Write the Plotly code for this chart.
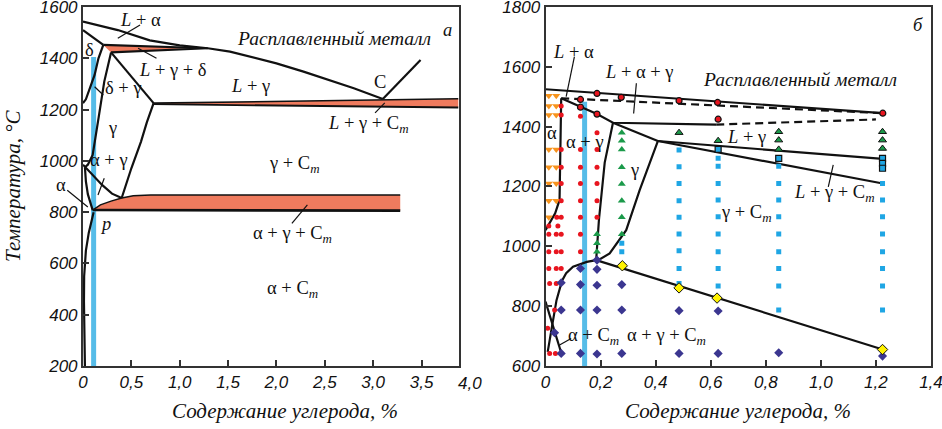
import plotly.graph_objects as go

# ================= Panel "а" (left) =================
A_XTICKS = [0, 0.5, 1.0, 1.5, 2.0, 2.5, 3.0, 3.5]
A_XTICKTEXT = ["0", "0,5", "1,0", "1,5", "2,0", "2,5", "3,0", "3,5"]
A_EXTRA_TICK = "4,0"
A_YTICKS = [200, 400, 600, 800, 1000, 1200, 1400, 1600]

# phase boundaries (carbon %, temperature °C)
A_LIQ_X = [0, 0.36, 0.69, 1.0, 1.29, 1.52, 2.0, 2.28, 2.8, 3.10]
A_LIQ_T = [1543, 1510, 1470, 1450, 1439, 1426, 1380, 1348, 1283, 1241]
A_CLINE_X = [3.10, 3.49]
A_CLINE_T = [1241, 1393]
A_DLIQ_X = [0, 0.21]
A_DLIQ_T = [1510, 1452]
A_PER_TOP_X = [0.21, 1.2]
A_PER_TOP_T = [1452, 1440]
A_PER_BOT_X = [0.29, 1.29]
A_PER_BOT_T = [1423, 1439]
A_WEDGE_X = [0.21, 1.1, 0.29]
A_WEDGE_T = [1452, 1440, 1423]
A_DELTA_X = [0.21, 0.16, 0.12, 0.07, 0.03, 0.0]
A_DELTA_T = [1452, 1400, 1335, 1280, 1240, 1225]
A_DG_X = [0.29, 0.22, 0.155, 0.10, 0.05, 0.02]
A_DG_T = [1423, 1309, 1153, 1023, 985, 975]
A_GSOL_X = [0.29, 0.73]
A_GSOL_T = [1423, 1225]
A_GCM_X = [0.73, 0.66, 0.60, 0.50, 0.40]
A_GCM_T = [1225, 1150, 1075, 971, 855]
A_AG_X = [0, 0.1, 0.2, 0.3, 0.40]
A_AG_T = [985, 945, 905, 872, 855]
A_ALPHA_X = [0.02, 0.03, 0.05, 0.08, 0.10]
A_ALPHA_T = [975, 920, 870, 830, 808]
A_SOLV_X = [0.11, 0.06, 0.03, 0.012, 0.01, 0.015, 0.02]
A_SOLV_T = [800, 720, 650, 550, 450, 300, 200]
A_BAND1_TOP_X = [0.73, 3.88]
A_BAND1_TOP_T = [1225, 1242]
A_BAND1_BOT_X = [3.88, 0.73]
A_BAND1_BOT_T = [1208, 1221]
A_BAND2_TOP_X = [0.10, 0.18, 0.29, 0.40, 0.52, 0.7, 3.28]
A_BAND2_TOP_T = [808, 828, 843, 855, 864, 867, 867]
A_BAND2_BOT_X = [3.28, 0.10]
A_BAND2_BOT_T = [806, 808]
A_BAR_X = [0.11, 0.11]
A_BAR_T = [200, 1405]

# ================= Panel "б" (right) =================
B_XTICKS = [0, 0.2, 0.4, 0.6, 0.8, 1.0, 1.2, 1.4]
B_XTICKTEXT = ["0", "0,2", "0,4", "0,6", "0,8", "1,0", "1,2", "1,4"]
B_YTICKS = [600, 800, 1000, 1200, 1400, 1600, 1800]

B_TOP_X = [0, 1.225]
B_TOP_T = [1525, 1445]
B_DASH1_X = [0.057, 1.225]
B_DASH1_T = [1495, 1445]
B_SOL_X = [0.057, 0.13, 0.187, 0.245, 0.62]
B_SOL_T = [1495, 1465, 1442, 1413, 1407]
B_DASH2_X = [0.62, 1.2]
B_DASH2_T = [1407, 1424]
B_LG_X = [0.245, 0.408]
B_LG_T = [1413, 1352]
B_LGU_X = [0.408, 1.225]
B_LGU_T = [1352, 1292]
B_LGL_X = [0.408, 1.225]
B_LGL_T = [1352, 1210]
B_GR_X = [0.408, 0.342, 0.293, 0.269, 0.233, 0.196, 0.184]
B_GR_T = [1352, 1188, 1054, 1021, 976, 956, 954]
B_GL_X = [0.184, 0.194, 0.215, 0.245]
B_GL_T = [954, 1088, 1280, 1413]
B_AGL_X = [0.184, 0.15, 0.10, 0.075, 0.06, 0.051, 0.04, 0.025, 0.008]
B_AGL_T = [954, 948, 932, 910, 885, 859, 820, 740, 647]
B_ACM_X = [0, 0.055]
B_ACM_T = [815, 650]
B_AL_X = [0.057, 0.054, 0.051, 0.035, 0.008, 0]
B_AL_T = [1495, 1300, 1155, 1110, 1065, 1054]
B_EUT_X = [0.184, 1.225]
B_EUT_T = [954, 655]
B_BAR_X = [0.142, 0.142]
B_BAR_T = [600, 1483]

# experimental points
ORANGE_X = [0.012, 0.039, 0.012, 0.039, 0.012, 0.039, 0.012, 0.039, 0.012, 0.039,
            0.012, 0.039, 0.012, 0.039, 0.012]
ORANGE_T = [1503, 1503, 1469, 1469, 1439, 1439, 1324, 1324, 1264, 1264,
            1210, 1210, 1152, 1152, 1097]
RED_X = [0.012, 0.012, 0.012, 0.012, 0.015, 0.015, 0.008, 0.033,
         0.041, 0.045, 0.039, 0.039, 0.039, 0.039, 0.036,
         0.057, 0.057, 0.057, 0.057, 0.057, 0.057, 0.057, 0.057, 0.057, 0.057,
         0.127, 0.127, 0.127, 0.127, 0.127, 0.127, 0.127, 0.127,
         0.187, 0.187, 0.187, 0.187, 0.187, 0.187]
RED_T = [1068, 1040, 982, 926, 876, 642, 726, 787,
         1097, 1068, 1040, 982, 926, 876, 642,
         1469, 1439, 1324, 1264, 1210, 1152, 1097, 1040, 982, 926,
         1435, 1324, 1264, 1210, 1152, 1097, 1040, 982,
         1380, 1324, 1264, 1210, 1152, 1097]
REDO_X = [0.127, 0.127, 0.187, 0.187, 0.275, 0.485, 0.625, 0.627, 1.225]
REDO_T = [1491, 1465, 1511, 1442, 1498, 1487, 1481, 1425, 1445]
GREEN_X = [0.187, 0.187, 0.187, 0.277, 0.277, 0.277, 0.277, 0.277, 0.277, 0.277, 0.277]
GREEN_T = [1040, 1010, 982, 1380, 1353, 1324, 1264, 1208, 1152, 1097, 1040]
GREENO_X = [0.485, 0.627, 0.847, 0.847, 0.847, 1.224, 1.224, 1.224]
GREENO_T = [1380, 1353, 1383, 1355, 1324, 1383, 1355, 1327]
CYAN_X = [0.277, 0.277,
          0.485, 0.485, 0.485, 0.485, 0.485, 0.485, 0.485, 0.485, 0.485,
          0.627, 0.627, 0.627, 0.627, 0.627, 0.627, 0.627, 0.627, 0.627,
          0.847, 0.847, 0.847, 0.847, 0.847, 0.847, 0.847, 0.847, 0.847,
          1.224, 1.224, 1.224, 1.224, 1.224, 1.224, 1.224, 1.224]
CYAN_T = [1010, 982,
          1322, 1266, 1210, 1152, 1097, 1041, 985, 926, 876,
          1294, 1268, 1210, 1155, 1099, 1041, 982, 926, 867,
          1268, 1210, 1155, 1099, 1041, 982, 926, 867, 787,
          1210, 1155, 1099, 1041, 982, 926, 867, 787]
CYANO_X = [0.627, 0.847, 1.224, 1.224, 1.224]
CYANO_T = [1324, 1294, 1294, 1277, 1261]
DIAM_X = [0.033, 0.057, 0.057, 0.057, 0.127, 0.127, 0.127, 0.127,
          0.187, 0.187, 0.187, 0.187, 0.187, 0.277, 0.277, 0.277,
          0.485, 0.485, 0.627, 0.627, 0.847, 1.224]
DIAM_T = [711, 878, 787, 642, 926, 872, 787, 642,
          954, 923, 870, 787, 640, 872, 787, 642,
          785, 642, 784, 642, 644, 633]
YEL_X = [0.279, 0.485, 0.623, 1.224]
YEL_T = [935, 861, 827, 655]

# ================= colours / fonts =================
ORANGE_FILL = "#EF7B5E"
BLUE_BAR = "#56BCE8"
BLACK = "#111111"
SERIF = "Liberation Serif"
SANS = "Liberation Sans"

fig = go.Figure()


def line(x, y, ax, width=2.2, dash=None, color=BLACK):
    fig.add_trace(go.Scatter(x=x, y=y, mode="lines", xaxis=ax[0], yaxis=ax[1],
                             line=dict(color=color, width=width, dash=dash),
                             hoverinfo="skip", showlegend=False))


def fill(x, y, ax):
    fig.add_trace(go.Scatter(x=x, y=y, mode="lines", fill="toself", fillcolor=ORANGE_FILL,
                             xaxis=ax[0], yaxis=ax[1], line=dict(width=0, color=ORANGE_FILL),
                             hoverinfo="skip", showlegend=False))


def marks(x, y, symbol, color, size, lw=0, lc=BLACK):
    fig.add_trace(go.Scatter(x=x, y=y, mode="markers", xaxis="x2", yaxis="y2",
                             marker=dict(symbol=symbol, color=color, size=size,
                                         line=dict(width=lw, color=lc)),
                             hoverinfo="skip", showlegend=False))


A = ("x", "y")
B = ("x2", "y2")

# ---- left panel
line(A_BAR_X, A_BAR_T, A, width=5, color=BLUE_BAR)
fill(A_WEDGE_X, A_WEDGE_T, A)
fill(A_BAND1_TOP_X + A_BAND1_BOT_X, A_BAND1_TOP_T + A_BAND1_BOT_T, A)
fill(A_BAND2_TOP_X + A_BAND2_BOT_X, A_BAND2_TOP_T + A_BAND2_BOT_T, A)
line(A_LIQ_X, A_LIQ_T, A)
line(A_CLINE_X, A_CLINE_T, A)
line(A_DLIQ_X, A_DLIQ_T, A)
line(A_PER_TOP_X, A_PER_TOP_T, A)
line(A_PER_BOT_X, A_PER_BOT_T, A)
line(A_DELTA_X, A_DELTA_T, A)
line(A_DG_X, A_DG_T, A)
line(A_GSOL_X, A_GSOL_T, A)
line(A_GCM_X, A_GCM_T, A)
line(A_AG_X, A_AG_T, A)
line(A_ALPHA_X, A_ALPHA_T, A)
line(A_SOLV_X, A_SOLV_T, A)
line(A_BAND1_TOP_X, A_BAND1_TOP_T, A, width=1.6)
line(A_BAND1_BOT_X, A_BAND1_BOT_T, A, width=1.8)
line(A_BAND2_TOP_X, A_BAND2_TOP_T, A, width=1.4)
line(A_BAND2_BOT_X, A_BAND2_BOT_T, A, width=2.6)

# leader lines (left)
A_LEADERS = [
    ([0.59, 0.36], [1530, 1478]),
    ([0.76, 0.57], [1400, 1439]),
    ([0.21, 0.12], [1257, 1289]),
    ([0.22, 0.155], [932, 867]),
    ([3.02, 3.12], [1187, 1226]),
    ([2.16, 2.32], [756, 828]),
]
for lx, ly in A_LEADERS:
    line(lx, ly, A, width=1.2)

# ---- right panel
line(B_BAR_X, B_BAR_T, B, width=5, color=BLUE_BAR)
line(B_TOP_X, B_TOP_T, B)
line(B_DASH1_X, B_DASH1_T, B, dash="8px,5px")
line(B_SOL_X, B_SOL_T, B)
line(B_DASH2_X, B_DASH2_T, B, dash="8px,5px")
line(B_LG_X, B_LG_T, B)
line(B_LGU_X, B_LGU_T, B)
line(B_LGL_X, B_LGL_T, B)
line(B_GR_X, B_GR_T, B)
line(B_GL_X, B_GL_T, B)
line(B_AGL_X, B_AGL_T, B)
line(B_ACM_X, B_ACM_T, B)
line(B_AL_X, B_AL_T, B)
line(B_EUT_X, B_EUT_T, B)

B_LEADERS = [
    ([0.105, 0.075], [1634, 1500]),
    ([0.33, 0.32], [1545, 1444]),
    ([1.027, 1.045], [1199, 1272]),
    ([0.093, 0.051], [692, 670]),
]
for lx, ly in B_LEADERS:
    line(lx, ly, B, width=1.2)

marks(ORANGE_X, ORANGE_T, "triangle-down", "#F7941D", 7)
marks(RED_X, RED_T, "circle", "#E8151F", 5)
marks(GREEN_X, GREEN_T, "triangle-up", "#1B9A4A", 7)
marks(CYAN_X, CYAN_T, "square", "#1FA6E4", 5)
marks(DIAM_X, DIAM_T, "diamond", "#3B3690", 7)
marks(YEL_X, YEL_T, "diamond", "#FFF200", 8, lw=1)
marks(REDO_X, REDO_T, "circle", "#E8151F", 6, lw=1.2)
marks(GREENO_X, GREENO_T, "triangle-up", "#1B9A4A", 7, lw=1)
marks(CYANO_X, CYANO_T, "square", "#1FA6E4", 6, lw=1.2)

# ================= labels =================
LBL_FONT = dict(family=SERIF, size=18.5, color=BLACK)
BIG_FONT = dict(family=SERIF, size=19.5, color=BLACK)
A_LABELS = [
    (0.59, 1549, "<i>L</i> + α"),
    (0.93, 1354, "<i>L</i> + γ + δ"),
    (0.07, 1432, "δ"),
    (0.42, 1284, "δ + γ"),
    (0.30, 1128, "γ"),
    (0.27, 1003, "α + γ"),
    (0.23, 752, "<i>p</i>"),
    (1.73, 1292, "<i>L</i> + γ"),
    (3.07, 1308, "C"),
    (3.77, 1510, "<i>а</i>"),
    (2.95, 1140, "<i>L</i> + γ + C<sub><i>m</i></sub>"),
    (2.19, 984, "γ + C<sub><i>m</i></sub>"),
    (2.17, 711, "α + γ + C<sub><i>m</i></sub>"),
    (2.17, 497, "α + C<sub><i>m</i></sub>"),
]
B_LABELS = [
    (0.10, 1651, "<i>L</i> + α"),
    (0.34, 1584, "<i>L</i> + α + γ"),
    (1.354, 1740, "<i>б</i>"),
    (0.025, 1378, "α"),
    (0.142, 1350, "α + γ"),
    (0.324, 1255, "γ"),
    (0.73, 1364, "<i>L</i> + γ"),
    (1.05, 1177, "<i>L</i> + γ + C<sub><i>m</i></sub>"),
    (0.73, 1110, "γ + C<sub><i>m</i></sub>"),
    (0.175, 697, "α + C<sub><i>m</i></sub>"),
    (0.44, 697, "α + γ + C<sub><i>m</i></sub>"),
]
ann = []
for x, y, t in A_LABELS:
    ann.append(dict(x=x, y=y, xref="x", yref="y", text=t, showarrow=False, font=LBL_FONT))
for x, y, t in B_LABELS:
    ann.append(dict(x=x, y=y, xref="x2", yref="y2", text=t, showarrow=False, font=LBL_FONT))
ann.append(dict(x=2.6, y=1479, xref="x", yref="y", text="<i>Расплавленный металл</i>",
                showarrow=False, font=BIG_FONT))
ann.append(dict(x=0.924, y=1556, xref="x2", yref="y2", text="<i>Расплавленный металл</i>",
                showarrow=False, font=BIG_FONT))
# "α" with leader pointing into the diagram (left panel)
ann.append(dict(x=0.05, y=820, xref="x", yref="y", ax=-0.23, ay=906, axref="x", ayref="y",
                text="α", showarrow=True, arrowhead=0, arrowwidth=1.2, arrowcolor=BLACK,
                standoff=0, startstandoff=0, font=LBL_FONT))
# tick label "4,0" lies just beyond the frame of panel а
ann.append(dict(x=470 / 942, y=1 - 383 / 429, xref="paper", yref="paper",
                text="<i>" + A_EXTRA_TICK + "</i>", showarrow=False,
                font=dict(family=SANS, size=17, color=BLACK), yanchor="middle", xanchor="center"))
TITLE_FONT = dict(family=SERIF, size=21, color=BLACK)
ann.append(dict(x=285 / 942, y=1 - 411 / 429, xref="paper", yref="paper",
                text="<i>Содержание углерода, %</i>", showarrow=False, font=TITLE_FONT,
                xanchor="center", yanchor="middle"))
ann.append(dict(x=738 / 942, y=1 - 411 / 429, xref="paper", yref="paper",
                text="<i>Содержание углерода, %</i>", showarrow=False, font=TITLE_FONT,
                xanchor="center", yanchor="middle"))
ann.append(dict(x=13 / 942, y=1 - 186 / 429, xref="paper", yref="paper",
                text="<i>Температура, °С</i>", textangle=-90, showarrow=False, font=TITLE_FONT,
                xanchor="center", yanchor="middle"))

TICKFONT = dict(family=SANS, size=17, color=BLACK, style="italic")
axis_common = dict(showgrid=False, zeroline=False, showline=True, linecolor="#333333",
                   linewidth=2, mirror=True, ticks="inside", ticklen=6, tickwidth=1.5,
                   tickcolor="#333333", tickfont=TICKFONT, automargin=False,
                   ticklabeloverflow="allow")

fig.update_layout(
    width=942, height=429,
    margin=dict(l=0, r=0, t=0, b=0),
    paper_bgcolor="white", plot_bgcolor="white",
    showlegend=False,
    xaxis=dict(domain=[0.0881, 0.4873], range=[0, 3.888], tickvals=A_XTICKS,
               ticktext=A_XTICKTEXT, anchor="y", **axis_common),
    yaxis=dict(domain=[0.1469, 0.9837], range=[200, 1600], tickvals=A_YTICKS,
               anchor="x", **axis_common),
    xaxis2=dict(domain=[0.5791, 0.9883], range=[0, 1.4], tickvals=B_XTICKS,
                ticktext=B_XTICKTEXT, anchor="y2", **axis_common),
    yaxis2=dict(domain=[0.1469, 0.9837], range=[600, 1800], tickvals=B_YTICKS,
                anchor="x2", **axis_common),
    annotations=ann,
)

fig.write_html("out.html", config={"displayModeBar": False},
               post_script="document.body.style.margin='0';document.body.style.padding='0';"
                           "document.documentElement.style.overflow='hidden';")
